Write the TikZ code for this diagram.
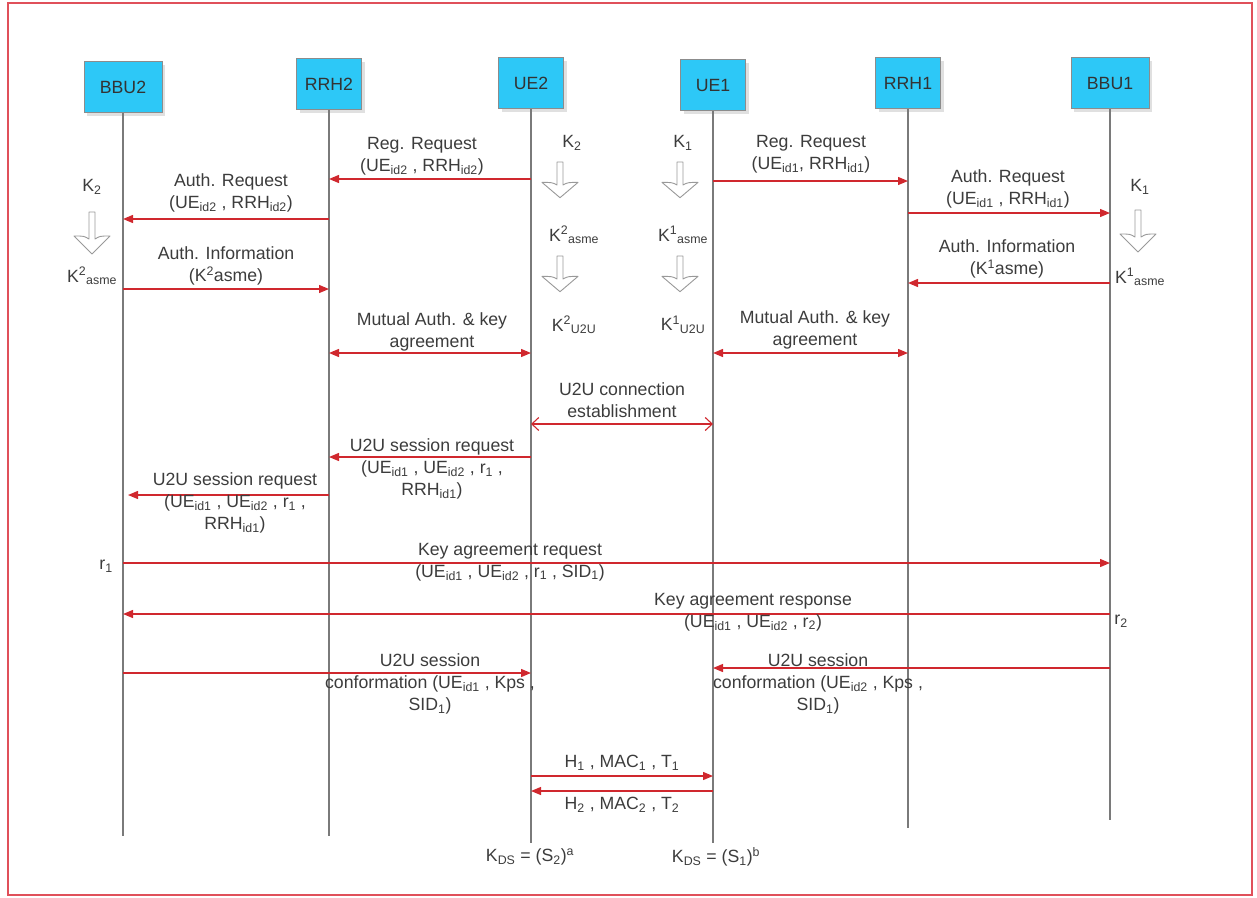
\documentclass[tikz,border=0pt]{standalone}
\usepackage{fontspec}
\setmainfont{Liberation Sans}
\usetikzlibrary{arrows.meta, shadows}
\definecolor{boxblue}{HTML}{2DC8F7}
\definecolor{msgred}{HTML}{D0282E}
\definecolor{framered}{HTML}{E0505A}
\definecolor{txtgray}{HTML}{3C3C3C}
\definecolor{linegray}{HTML}{7A7A7A}
\newcommand{\lowtxt}[1]{\textsubscript{#1}}
\newcommand{\hightxt}[1]{\textsuperscript{#1}}

\begin{document}
\begin{tikzpicture}[x=1pt, y=-1pt,
    every node/.style={font=\fontsize{17.7}{22}\selectfont, text=txtgray},
    entity/.style={draw=black!45, fill=boxblue, line width=1pt, minimum width=65pt, minimum height=51pt,
        drop shadow={shadow xshift=3pt, shadow yshift=-3pt, fill=black!12, opacity=1}, text=black!80},
    lifeline/.style={draw=linegray, line width=1.2pt},
    msg/.style={draw=msgred, line width=1.3pt, -{Triangle[length=10pt,width=8pt]}},
    twoway/.style={msg, {Triangle[length=10pt,width=8pt]}-{Triangle[length=10pt,width=8pt]}},
    link/.style={draw=msgred, line width=1.1pt, {Straight Barb[length=7pt,width=13pt]}-{Straight Barb[length=7pt,width=13pt]}},
    txt/.style={align=center, inner sep=0pt},
    keyarrow/.pic={\draw[draw=black!40, fill=white, line width=0.9pt, line join=round]
        (-3,0) -- (-3,27) .. controls (-8,24) .. (-18,24) -- (0,42) -- (18,24) .. controls (8,24) .. (3,27) -- (3,0) -- cycle;}
  ]
    \useasboundingbox (0,0) rectangle (1257,897);
    \draw[framered, line width=2pt] (8,3) rectangle (1252,895);

    % entities
    \node[entity, minimum width=78pt] (bbu2) at (123,87) {BBU2};
    \node[entity] (rrh2) at (329,84) {RRH2};
    \node[entity] (ue2) at (531,83) {UE2};
    \node[entity] (ue1) at (713,85) {UE1};
    \node[entity] (rrh1) at (908,83) {RRH1};
    \node[entity, minimum width=78pt] (bbu1) at (1110,83) {BBU1};

    \draw[lifeline] (bbu2.south) -- (bbu2 |- 0,836);
    \draw[lifeline] (rrh2.south) -- (rrh2 |- 0,836);
    \draw[lifeline] (ue2.south) -- (ue2 |- 0,843);
    \draw[lifeline] (ue1.south) -- (ue1 |- 0,843);
    \draw[lifeline] (rrh1.south) -- (rrh1 |- 0,828);
    \draw[lifeline] (bbu1.south) -- (bbu1 |- 0,820);

    % key derivation
    \node (k2b) at (92,187) {K\lowtxt{2}};
    \pic at (92,212) {keyarrow};
    \node (k2basme) at (92,276) {K\hightxt{2}\lowtxt{asme}};
    \node (k2u) at (572,143) {K\lowtxt{2}};
    \pic[yscale=0.85] at (560,162) {keyarrow};
    \node (k2uasme) at (574,235) {K\hightxt{2}\lowtxt{asme}};
    \pic[yscale=0.85] at (560,256) {keyarrow};
    \node (k2uu2u) at (574,325) {K\hightxt{2}\lowtxt{U2U}};
    \node (k1u) at (683,143) {K\lowtxt{1}};
    \pic[yscale=0.85] at (680,162) {keyarrow};
    \node (k1uasme) at (683,235) {K\hightxt{1}\lowtxt{asme}};
    \pic[yscale=0.85] at (680,256) {keyarrow};
    \node (k1uu2u) at (683,325) {K\hightxt{1}\lowtxt{U2U}};
    \node (k1b) at (1140,187) {K\lowtxt{1}};
    \pic at (1138,210) {keyarrow};
    \node (k1basme) at (1140,277) {K\hightxt{1}\lowtxt{asme}};

    % registration and authentication
    \draw[msg] (ue2 |- 0,179) -- (rrh2 |- 0,179);
    \node[txt] (reg2) at (422,156) {Reg. Request\\(UE\lowtxt{id2} , RRH\lowtxt{id2})};
    \draw[msg] (rrh2 |- 0,219) -- (bbu2 |- 0,219);
    \node[txt] (auth2) at (231,193) {Auth. Request\\(UE\lowtxt{id2} , RRH\lowtxt{id2})};
    \draw[msg] (bbu2 |- 0,289) -- (rrh2 |- 0,289);
    \node[txt] (info2) at (226,266) {Auth. Information\\(K\hightxt{2}asme)};
    \draw[msg] (ue1 |- 0,181) -- (rrh1 |- 0,181);
    \node[txt] (reg1) at (811,154) {Reg. Request\\(UE\lowtxt{id1}, RRH\lowtxt{id1})};
    \draw[msg] (rrh1 |- 0,213) -- (bbu1 |- 0,213);
    \node[txt] (auth1) at (1008,189) {Auth. Request\\(UE\lowtxt{id1} , RRH\lowtxt{id1})};
    \draw[msg] (bbu1 |- 0,283) -- (rrh1 |- 0,283);
    \node[txt] (info1) at (1007,259) {Auth. Information\\(K\hightxt{1}asme)};

    \draw[twoway] (rrh2 |- 0,353) -- (ue2 |- 0,353);
    \node[txt] (mut2) at (432,332) {Mutual Auth. \& key\\agreement};
    \draw[twoway] (ue1 |- 0,353) -- (rrh1 |- 0,353);
    \node[txt] (mut1) at (815,330) {Mutual Auth. \& key\\agreement};
    \draw[link] (ue2 |- 0,424) -- (ue1 |- 0,424);
    \node[txt] (conn) at (622,400) {U2U connection\\establishment};

    % session
    \draw[msg] (ue2 |- 0,457) -- (rrh2 |- 0,457);
    \node[txt] (sreq2) at (432,469) {U2U session request\\(UE\lowtxt{id1} , UE\lowtxt{id2} , r\lowtxt{1} ,\\RRH\lowtxt{id1})};
    \draw[msg] (rrh2 |- 0,495) -- (128,495);
    \node[txt] (sreq1) at (235,503) {U2U session request\\(UE\lowtxt{id1} , UE\lowtxt{id2} , r\lowtxt{1} ,\\RRH\lowtxt{id1})};

    \node (r1) at (106,566) {r\lowtxt{1}};
    \draw[msg] (bbu2 |- 0,563) -- (bbu1 |- 0,563);
    \node[txt] (kreq) at (510,562) {Key agreement request\\(UE\lowtxt{id1} , UE\lowtxt{id2} , r\lowtxt{1} , SID\lowtxt{1})};
    \node (r2) at (1121,621) {r\lowtxt{2}};
    \draw[msg] (bbu1 |- 0,614) -- (bbu2 |- 0,614);
    \node[txt] (kres) at (753,612) {Key agreement response\\(UE\lowtxt{id1} , UE\lowtxt{id2} , r\lowtxt{2})};

    \draw[msg] (bbu2 |- 0,673) -- (ue2 |- 0,673);
    \node[txt] (conf2) at (430,684) {U2U session\\conformation (UE\lowtxt{id1} , Kps ,\\SID\lowtxt{1})};
    \draw[msg] (bbu1 |- 0,668) -- (ue1 |- 0,668);
    \node[txt] (conf1) at (818,684) {U2U session\\conformation (UE\lowtxt{id2} , Kps ,\\SID\lowtxt{1})};

    % direct exchange
    \draw[msg] (ue2 |- 0,776) -- (ue1 |- 0,776);
    \node[txt] (h1) at (622,763) {H\lowtxt{1} , MAC\lowtxt{1} , T\lowtxt{1}};
    \draw[msg] (ue1 |- 0,791) -- (ue2 |- 0,791);
    \node[txt] (h2) at (622,805) {H\lowtxt{2} , MAC\lowtxt{2} , T\lowtxt{2}};
    \node (kds2) at (530,857) {K\lowtxt{DS} = (S\lowtxt{2})\hightxt{a}};
    \node (kds1) at (716,857) {K\lowtxt{DS} = (S\lowtxt{1})\hightxt{b}};
\end{tikzpicture}
\end{document}
